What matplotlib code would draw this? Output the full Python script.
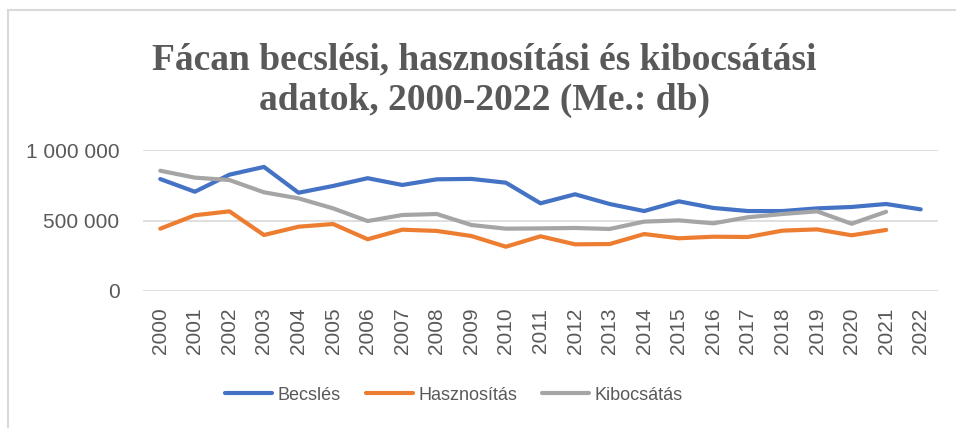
import matplotlib
matplotlib.use("Agg")
import matplotlib.pyplot as plt
from matplotlib.lines import Line2D
from matplotlib.ticker import FuncFormatter

years = [str(y) for y in range(2000, 2023)]

becsles = [794000, 704000, 825000, 880000, 697000, 745000, 800000, 752000, 792000, 795000,
           768000, 622000, 686000, 617000, 567000, 636000, 589000, 567000, 567000, 586000,
           596000, 617000, 579000]
hasznositas = [442000, 537000, 565000, 397000, 456000, 475000, 367000, 435000, 426000, 390000,
               314000, 388000, 331000, 333000, 404000, 374000, 385000, 383000, 428000, 437000,
               395000, 433000]
kibocsatas = [853000, 804000, 787000, 700000, 657000, 586000, 496000, 539000, 546000, 468000,
              442000, 444000, 447000, 440000, 492000, 501000, 480000, 523000, 546000, 565000,
              477000, 562000]

grey = "#595959"

fig = plt.figure(figsize=(9.56, 4.28), dpi=100)
ax = fig.add_axes([143 / 956, 1 - 291 / 428, (938 - 143) / 956, (291 - 150) / 428])

x = list(range(len(years)))
ax.plot(x, becsles, color="#4472C4", lw=3, solid_capstyle="round", label="Becslés")
ax.plot(x[:len(hasznositas)], hasznositas, color="#ED7D31", lw=3, solid_capstyle="round", label="Hasznosítás")
ax.plot(x[:len(kibocsatas)], kibocsatas, color="#A5A5A5", lw=3, solid_capstyle="round", label="Kibocsátás")

ax.set_xlim(-0.5, len(years) - 0.5)
ax.set_ylim(0, 1000000)
ax.set_yticks([0, 500000, 1000000])
ax.yaxis.set_major_formatter(FuncFormatter(lambda v, p: f"{int(v):,}".replace(",", " ")))
ax.set_xticks(x)
ax.set_xticklabels(years, rotation=90)
ax.grid(axis="y", color="#D9D9D9", lw=1.2)
ax.set_axisbelow(True)
for s in ax.spines.values():
    s.set_visible(False)
ax.tick_params(length=0, colors=grey, labelsize=15, pad=12)
for lab in ax.get_xticklabels() + ax.get_yticklabels():
    lab.set_fontfamily("Liberation Sans")
ax.tick_params(axis="y", pad=17)

fig.text(484 / 956, 1 - 60 / 428, "Fácan becslési, hasznosítási és kibocsátási",
         ha="center", va="center", fontsize=27, fontweight="bold", color=grey,
         family="Liberation Serif")
fig.text(484 / 956, 1 - 100 / 428, "adatok, 2000-2022 (Me.: db)",
         ha="center", va="center", fontsize=27, fontweight="bold", color=grey,
         family="Liberation Serif")

leg = fig.legend(loc="center", bbox_to_anchor=(454 / 956, 1 - 395 / 428), ncol=3, frameon=False,
                 prop={"family": "Liberation Sans", "size": 13}, handlelength=2.6,
                 handletextpad=0.3, columnspacing=1.4)
for t in leg.get_texts():
    t.set_color(grey)

# chart area border (top and left)
fig.add_artist(Line2D([8 / 956, 1], [1 - 10 / 428, 1 - 10 / 428], transform=fig.transFigure, color="#D9D9D9", lw=1.5))
fig.add_artist(Line2D([8 / 956, 8 / 956], [0, 1 - 10 / 428], transform=fig.transFigure, color="#D9D9D9", lw=1.5))

fig.savefig("out.png", dpi=100)
